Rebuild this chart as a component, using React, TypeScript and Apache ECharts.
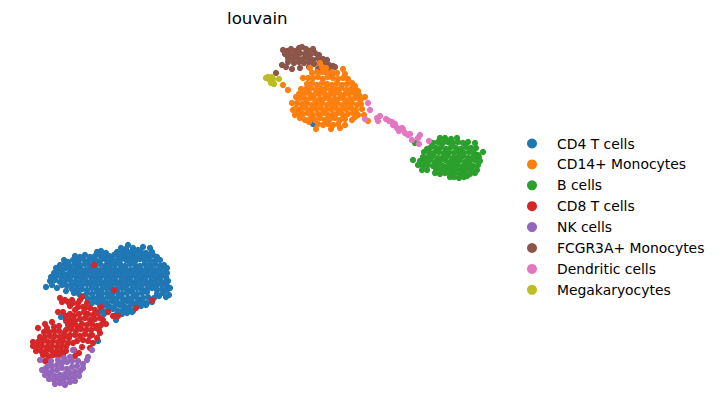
import React, { useEffect, useRef } from "react";
import * as echarts from "echarts";

const legendNames = ["CD4 T cells","CD14+ Monocytes","B cells","CD8 T cells","NK cells","FCGR3A+ Monocytes","Dendritic cells","Megakaryocytes"];
const colors = ["#1f77b4","#ff7f0e","#2ca02c","#d62728","#9467bd","#8c564b","#e377c2","#bcbd22"];

const cd4 = [[128,245],[121,248],[126,249],[133,248],[138,250],[143,247],[150,248],[97,252],[101,251],[106,253],[117,252],[122,252],[127,253],[131,252],[136,253],[141,252],[146,253],[152,252],
[75,256],[80,257],[85,255],[90,257],[95,256],[100,255],[104,257],[109,256],[114,255],[119,257],[124,256],[129,256],[133,257],[138,255],[143,257],[148,256],[153,255],[157,257],
[73,260],[78,261],[83,259],[88,261],[92,260],[97,261],[102,259],[107,261],[112,260],[116,261],[121,259],[126,260],[131,261],[136,260],[140,259],[145,261],[150,260],[155,261],[160,260],
[60,265],[65,264],[70,266],[75,264],[80,265],[85,264],[90,266],[95,265],[100,264],[105,266],[110,264],[115,265],[120,264],[125,266],[130,264],[135,265],[140,266],[145,264],[150,265],[155,264],[160,266],[164,265],
[56,268],[61,269],[66,268],[71,270],[76,268],[81,269],[86,270],[91,268],[96,269],[101,270],[106,268],[111,269],[116,270],[121,268],[126,269],[131,270],[136,268],[141,270],[146,269],[151,268],[156,270],[161,269],[167,268],
[54,273],[58,272],[63,273],[68,274],[73,272],[78,273],[83,274],[88,272],[93,273],[98,274],[103,272],[108,273],[113,274],[118,272],[123,273],[128,274],[133,272],[138,273],[143,274],[148,272],[153,273],[158,274],[163,272],[167,273],
[51,277],[56,276],[61,277],[66,278],[71,276],[76,277],[81,278],[86,276],[91,277],[96,278],[101,276],[106,277],[111,278],[116,276],[121,277],[126,278],[131,276],[136,277],[141,278],[146,276],[151,277],[156,278],[161,276],[166,277],
[50,281],[55,280],[60,282],[65,281],[70,280],[75,282],[80,281],[85,280],[90,282],[95,281],[100,280],[105,282],[110,281],[115,280],[120,282],[125,281],[130,280],[135,282],[140,281],[145,280],[150,282],[155,281],[160,280],[165,282],[168,281],
[46,287],[52,285],[57,288],[62,285],[67,286],[72,284],[77,286],[82,285],[87,284],[92,286],[97,285],[102,284],[107,286],[112,285],[117,284],[122,286],[127,285],[132,284],[137,286],[142,285],[147,284],[152,286],[157,285],[162,284],[167,286],
[72,289],[77,290],[82,289],[87,290],[92,288],[97,290],[102,289],[107,288],[112,290],[117,289],[122,288],[127,290],[132,289],[137,288],[142,290],[147,289],[152,288],[157,290],[162,289],[167,290],[170,288],
[87,293],[92,294],[97,292],[102,294],[107,293],[112,294],[117,292],[122,294],[127,293],[132,292],[137,294],[142,293],[147,292],[157,294],[163,293],[169,295],[166,297],
[93,298],[98,297],[103,299],[108,297],[113,298],[118,297],[123,299],[128,298],[133,297],[138,299],[143,298],[148,297],[154,298],[159,296],
[97,302],[102,301],[107,303],[112,301],[117,302],[122,303],[127,301],[132,302],[137,303],[142,301],[147,303],[152,302],
[100,306],[105,305],[110,307],[115,306],[120,305],[125,307],[130,306],[135,304],[141,306],[146,305],
[108,310],[113,309],[118,311],[123,310],[128,309],[133,311],[122,314],[127,313],[132,312],[117,314],[103,311],[99,312],
[116,320],[61,317],[98,341],[66,321],[104,314],[64,260],[68,262],[84,296],[88,299],[79,294],[74,293],[66,291],[92,303],[313,124]];

const cd14 = [[320,63],[322,67],[310,68],[326,68],[343,69],[312,73],[317,72],[322,72],[327,73],[332,72],[337,73],[345,74],[303,78],[308,78],[313,78],[318,77],[323,79],[328,77],[333,78],[338,79],[343,78],[348,79],
[307,84],[312,83],[317,85],[322,83],[327,84],[332,85],[337,83],[342,85],[347,84],[352,83],[355,86],[301,89],[306,89],[311,88],[316,90],[321,89],[326,88],[331,90],[336,89],[341,88],[346,90],[351,89],[356,90],[358,91],
[296,97],[299,94],[304,94],[309,93],[314,95],[319,94],[324,93],[329,95],[334,94],[339,93],[344,95],[349,94],[354,93],[359,95],[365,97],[300,98],[305,99],[310,98],[315,100],[320,99],[325,98],[330,100],[335,99],[340,98],[345,100],[350,99],[355,98],[360,100],[362,98],
[292,103],[297,103],[302,104],[307,103],[312,105],[317,104],[322,103],[327,105],[332,104],[337,103],[342,105],[347,104],[352,103],[357,105],[361,104],
[293,110],[296,108],[301,109],[306,108],[311,110],[316,109],[321,108],[326,110],[331,109],[336,108],[341,110],[346,109],[351,108],[356,110],[362,109],
[295,115],[298,113],[303,114],[308,113],[313,115],[318,114],[323,113],[328,115],[333,114],[338,113],[343,115],[348,114],[353,113],[358,115],[364,115],
[305,120],[300,118],[310,119],[315,120],[320,118],[325,120],[330,119],[335,118],[340,120],[345,119],[352,120],[318,124],[323,125],[328,124],[333,125],[338,124],[345,125],[331,129],[283,85],[288,90],[368,121],[355,117],[316,129],[340,128],[309,122]];

const bcells = [[440,138],[445,138],[451,139],[457,138],[433,143],[438,142],[443,143],[448,142],[453,143],[458,142],[463,143],[468,142],[475,143],
[427,149],[431,147],[436,148],[441,147],[446,149],[451,147],[456,148],[461,149],[466,147],[471,148],[476,148],[424,152],[429,152],[434,153],[439,152],[444,153],[449,152],[454,153],[459,152],[464,153],[469,152],[474,153],[483,152],[478,155],
[423,157],[428,157],[433,156],[438,158],[443,157],[448,156],[453,158],[458,157],[463,156],[468,158],[473,157],[479,157],[413,160],[420,161],[425,161],[430,160],[435,162],[440,161],[445,160],[450,162],[455,161],[460,160],[465,162],[470,161],[475,160],[480,161],
[418,165],[423,166],[428,165],[433,166],[438,165],[443,166],[448,165],[453,166],[458,165],[463,166],[468,165],[473,166],[478,165],[422,170],[427,170],[436,169],[441,170],[446,169],[451,170],[456,169],[461,170],[466,169],[471,170],[477,170],
[435,173],[440,174],[445,173],[450,174],[455,173],[460,174],[465,173],[470,174],[475,173],[450,177],[454,177],[459,178],[464,177],[467,176],[415,143]];

const cd8 = [[60,298],[62,302],[58,312],[68,302],[73,303],[78,303],[82,297],[83,307],[63,312],[75,310],[94,265],[114,290],[152,300],[136,308],[101,307],[108,312],[118,316],[113,316],[106,324],[100,333],[97,338],[93,343],[90,348],[79,353],[74,350],[73,343],[77,341],[82,347],[75,356],
[66,316],[70,314],[74,316],[79,314],[84,312],[88,314],[93,315],[97,313],[66,320],[70,320],[75,321],[80,319],[85,318],[90,320],[95,319],[100,318],[68,325],[72,325],[77,326],[82,324],[87,325],[92,324],[97,326],[66,330],[71,329],[76,331],[81,329],[86,330],[91,330],[96,328],[70,335],[75,335],[80,336],[85,334],[90,336],[83,340],[88,341],
[38,328],[45,324],[52,322],[47,328],[54,327],[59,326],[44,332],[49,332],[54,331],[59,331],[64,333],[40,337],[45,337],[50,336],[55,336],[60,337],[65,336],[69,338],[33,342],[38,342],[43,341],[48,342],[53,341],[58,342],[63,341],[68,343],[33,346],[37,347],[42,346],[47,347],[52,346],[57,347],[62,346],[66,347],[36,351],[41,351],[46,351],[51,350],[56,352],[61,351],[66,351],[43,355],[48,356],[53,355],[58,356],[63,355],[47,362],[45,361],[49,358],
[65,300],[70,306],[80,300],[87,303],[90,308],[95,310],[85,308],[103,320],[101,325],[99,330],[92,335],[72,300],[78,307]];

const nk = [[73,350],[92,350],[88,357],[87,360],[40,360],[51,361],[64,358],[70,357],[46,368],[52,366],[57,365],[62,363],[67,362],[72,361],[78,361],[42,370],[47,372],[52,371],[57,370],[62,368],[67,369],[72,367],[77,366],[83,364],[45,375],[50,375],[55,376],[60,375],[65,374],[70,373],[75,372],[80,371],[49,379],[54,380],[59,379],[64,379],[69,378],[74,377],[79,376],[55,384],[60,383],[65,384],[70,382],[75,381],[65,385],[83,368],[48,366],[58,360],[62,378],[68,375]];

const fcgr = [[283,50],[287,51],[291,49],[295,51],[299,48],[302,47],[306,49],[309,51],[313,49],[285,54],[290,54],[295,55],[300,53],[305,54],[310,55],[315,53],[319,55],[288,58],[293,59],[298,58],[303,59],[308,58],[313,60],[318,58],[323,59],[327,60],[288,62],[294,63],[299,62],[304,63],[309,62],[314,64],[319,63],[324,63],[329,65],[333,66],[276,73],[282,65],[286,67],[292,69],[300,68],[309,67],[318,69],[335,67],[326,68],[329,76],[332,74],[331,70],[326,72]];

const dendritic = [[368,103],[370,110],[365,119],[377,118],[380,116],[378,121],[386,119],[389,121],[392,122],[393,125],[395,124],[397,128],[398,129],[402,128],[403,129],[399,131],[405,133],[408,135],[410,134],[420,135],[418,138],[412,140],[419,144],[429,141]];

const mega = [[266,78],[268,77],[270,78],[272,77],[273,79],[270,80],[272,81],[271,83],[273,83],[274,84],[269,79],[279,79]];

const pointSets = [cd4,cd14,bcells,cd8,nk,fcgr,dendritic,mega];
const drawOrder = [5,0,1,2,3,4,6,7];

export default function App() {
  const ref = useRef<HTMLDivElement>(null);
  useEffect(() => {
    const chart = echarts.init(ref.current!, null, { renderer: "svg" });
    chart.setOption({
      animation: false,
      title: { text: "louvain", left: 222, top: 5, textStyle: { fontFamily: "DejaVu Sans", fontSize: 16.67, fontWeight: "normal", color: "#000" } },
      grid: { left: 0, right: 0, top: 0, bottom: 0 },
      xAxis: { type: "value", min: 0, max: 720, show: false },
      yAxis: { type: "value", min: 0, max: 411, inverse: true, show: false },
      legend: {
        data: legendNames.map((name) => ({ name, icon: "circle" })),
        left: 522, top: 131.5, orient: "vertical", itemWidth: 10, itemHeight: 10, itemGap: 6.9,
        selectedMode: false,
        textStyle: { fontFamily: "DejaVu Sans", fontSize: 13.9, color: "#000", padding: [0, 0, 0, 15] },
      },
      series: drawOrder.map((i) => ({
        type: "scatter", name: legendNames[i], data: pointSets[i], symbolSize: 6.3, silent: true,
        itemStyle: { color: colors[i], opacity: 1 },
      })),
    });
    return () => chart.dispose();
  }, []);
  return <div ref={ref} style={{ width: 720, height: 411, position: "absolute", left: 0, top: 0 }} />;
}
